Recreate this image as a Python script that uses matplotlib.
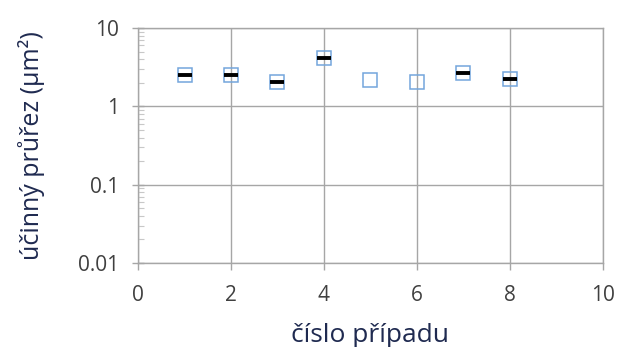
import matplotlib
matplotlib.use("Agg")
import matplotlib.pyplot as plt
from matplotlib.ticker import LogLocator, FixedLocator, NullFormatter

# measured values (open squares)
case_x = [1, 2, 3, 4, 5, 6, 7, 8]
case_y = [2.53, 2.53, 2.08, 4.12, 2.19, 2.08, 2.66, 2.23]
# black dashes
dash_x = [1, 2, 3, 4, 7, 8]
dash_y = [2.53, 2.53, 2.08, 4.12, 2.66, 2.23]

x_ticks = [0, 2, 4, 6, 8, 10]
y_ticks = [0.01, 0.1, 1, 10]
y_labels = ["0.01", "0.1", "1", "10"]

grid_col = "#a6a6a6"
text_col = "#404040"
label_col = "#1f2a50"

fig = plt.figure(figsize=(6.19, 3.47), dpi=100)
ax = fig.add_axes([0.223, 0.242, 0.751, 0.677])

ax.plot(case_x, case_y, linestyle="none", marker="s", markersize=10.5,
        markerfacecolor="none", markeredgecolor="#74a6dc", markeredgewidth=1.1, zorder=3)
ax.plot(dash_x, dash_y, linestyle="none", marker="_", markersize=9.5,
        markeredgecolor="black", markeredgewidth=2.8, zorder=4)

ax.set_yscale("log")
ax.set_xlim(0, 10)
ax.set_ylim(0.01, 10)

ax.xaxis.set_major_locator(FixedLocator(x_ticks))
ax.set_xticklabels([str(t) for t in x_ticks])
ax.yaxis.set_major_locator(FixedLocator(y_ticks))
ax.set_yticklabels(y_labels)
ax.yaxis.set_minor_locator(LogLocator(base=10, subs=range(2, 10)))
ax.yaxis.set_minor_formatter(NullFormatter())

ax.grid(True, which="major", color=grid_col, linewidth=1.0)
for s in ax.spines.values():
    s.set_color(grid_col)
    s.set_linewidth(1.0)

ax.tick_params(axis="x", which="major", colors=grid_col, labelcolor=text_col,
               labelsize=15, length=5, width=1.0, direction="out", pad=11)
ax.tick_params(axis="y", which="major", colors=grid_col, labelcolor=text_col,
               labelsize=15, length=9, width=1.0, direction="inout", pad=9)
ax.tick_params(axis="y", which="minor", colors="#c8c8c8", length=4, width=0.8, direction="in")
for lab in ax.get_xticklabels() + ax.get_yticklabels():
    lab.set_family("Open Sans")

ax.set_xlabel("číslo případu", fontsize=19, color=label_col, family="Open Sans", labelpad=12)
ax.set_ylabel("účinný průřez (µm²)", fontsize=18, color=label_col, family="Open Sans", labelpad=24)

fig.savefig("out.png", dpi=100)
